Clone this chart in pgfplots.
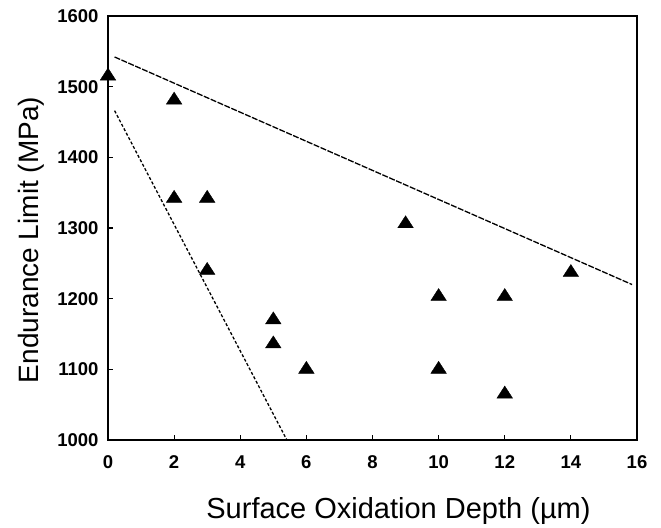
\documentclass[border=0pt]{standalone}
\usepackage{fontspec}
\setmainfont{Liberation Sans}
\usepackage{pgfplots}
\pgfplotsset{compat=1.18}

\begin{document}
\begin{tikzpicture}
	\begin{axis}[
		scale only axis,
		width=529pt, height=424pt,
		xmin=0, xmax=16, ymin=1000, ymax=1600,
		xtick={0,2,...,16}, ytick={1000,1100,...,1600},
		tick pos=left, tick align=inside,
		major tick length=5pt,
		axis line style={line width=1.6pt},
		every tick/.style={line width=1.2pt, black},
		/pgf/number format/assume math mode=true,
		/pgf/number format/1000 sep={},
		ticklabel style={font=\fontsize{18.5}{18.5}\selectfont\bfseries},
		xticklabel style={yshift=-12pt},
		yticklabel style={xshift=-6pt},
		xlabel={Surface Oxidation Depth (µm)},
		ylabel={Endurance Limit (MPa)},
		xlabel style={font=\fontsize{29}{29}\selectfont, yshift=-22pt, xshift=26pt},
		ylabel style={font=\fontsize{28}{28}\selectfont, yshift=6pt, xshift=-12pt},
		clip=false,
	]
	% fixed margins round the axis
	\path (rel axis cs:0,0) ++(-108pt,-84pt);
	\path (rel axis cs:1,1) ++(24pt,16pt);
	% measured points
	\addplot[only marks, mark=triangle*, mark size=8pt, mark options={xscale=1.12}, black] coordinates {
		(0,1515) (2,1481) (2,1342) (3,1342) (3,1240) (5,1170) (5,1136)
		(6,1100) (9,1306) (10,1203) (12,1203) (10,1100) (12,1065) (14,1237)
	};
	% bounding lines
	\addplot[black, line width=1.3pt, dash pattern=on 6pt off 1.5pt] coordinates {
		(0.2,1542) (15.85,1220)
	};
	\addplot[black, line width=1.3pt, dash pattern=on 3pt off 2pt] coordinates {
		(0.2,1466) (5.41,1000)
	};
	\end{axis}
\end{tikzpicture}
\end{document}
